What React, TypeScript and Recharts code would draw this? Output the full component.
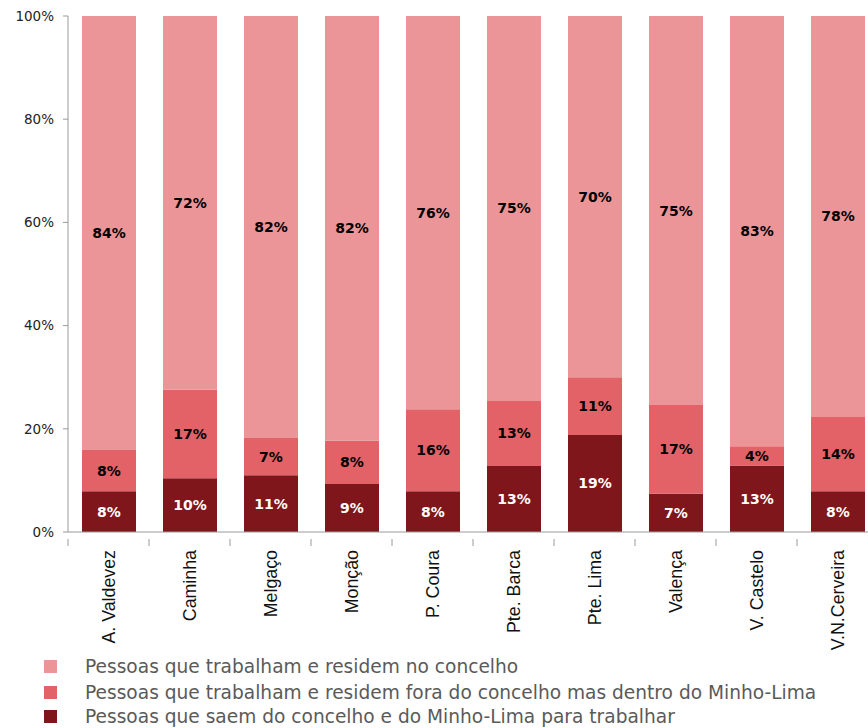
import React from "react";
import { BarChart, Bar, XAxis, YAxis, LabelList } from "recharts";

const categories = [
  "A. Valdevez",
  "Caminha",
  "Melgaço",
  "Monção",
  "P. Coura",
  "Pte. Barca",
  "Pte. Lima",
  "Valença",
  "V. Castelo",
  "V.N.Cerveira",
];
const saem = [7.9, 10.4, 11.0, 9.3, 7.9, 12.8, 18.8, 7.4, 12.9, 7.9];
const foraConcelho = [8.0, 17.2, 7.2, 8.4, 15.9, 12.6, 11.2, 17.2, 3.7, 14.4];
const noConcelho = [84.1, 72.4, 81.8, 82.3, 76.2, 74.6, 70.0, 75.4, 83.4, 77.7];
const yTicks = [0, 20, 40, 60, 80, 100];

const seriesNames = [
  "Pessoas que trabalham e residem no concelho",
  "Pessoas que trabalham e residem fora do concelho mas dentro do Minho-Lima",
  "Pessoas que saem do concelho e do Minho-Lima para trabalhar",
];
const colors = ["#EB9598", "#E26267", "#7E161B"];

const data = categories.map((c, i) => ({
  name: c,
  saem: saem[i],
  fora: foraConcelho[i],
  no: noConcelho[i],
}));

const AXIS = "#9a9a9a";
const FONT = "'DejaVu Sans', Verdana, sans-serif";
const HALF_BAND = 40.5;

const XTick = (props: any) => {
  const { x, y, payload } = props;
  const bx = x - HALF_BAND;
  const ty = y + 10;
  return (
    <g>
      <line x1={bx} y1={y - 1} x2={bx} y2={y + 6} stroke={AXIS} strokeWidth={1} />
      <text
        x={x}
        y={ty}
        transform={`rotate(-90, ${x}, ${ty})`}
        textAnchor="end"
        dominantBaseline="central"
        fontFamily="'Liberation Sans', Arial, sans-serif"
        fontSize={17.8}
        fill="#111"
      >
        {payload.value}
      </text>
    </g>
  );
};

const fmt = (v: any) => `${Math.round(Number(v))}%`;

export default function App() {
  return (
    <div
      style={{
        position: "absolute",
        left: 0,
        top: 0,
        width: 868,
        height: 728,
        overflow: "hidden",
        background: "#fff",
      }}
    >
      <BarChart
        width={880}
        height={728}
        data={data}
        margin={{ top: 16, right: 2, bottom: 0, left: 0 }}
        barSize={54}
      >
        <YAxis
          type="number"
          domain={[0, 100]}
          ticks={yTicks}
          tickFormatter={(v: number) => `${v}%`}
          width={68}
          stroke={AXIS}
          tickSize={5}
          tickMargin={9}
          tick={{ fill: "#222", fontSize: 13.5, fontFamily: FONT }}
          interval={0}
        />
        <XAxis
          dataKey="name"
          height={196}
          stroke={AXIS}
          tickLine={false}
          interval={0}
          tick={<XTick />}
        />
        <Bar dataKey="saem" stackId="a" fill={colors[2]} isAnimationActive={false}>
          <LabelList
            dataKey="saem"
            position="center"
            formatter={fmt}
            fill="#ffffff"
            fontWeight="bold"
            fontSize={14}
            fontFamily={FONT}
          />
        </Bar>
        <Bar dataKey="fora" stackId="a" fill={colors[1]} isAnimationActive={false}>
          <LabelList
            dataKey="fora"
            position="center"
            formatter={fmt}
            fill="#000000"
            fontWeight="bold"
            fontSize={14}
            fontFamily={FONT}
          />
        </Bar>
        <Bar dataKey="no" stackId="a" fill={colors[0]} isAnimationActive={false}>
          <LabelList
            dataKey="no"
            position="center"
            formatter={fmt}
            fill="#000000"
            fontWeight="bold"
            fontSize={14}
            fontFamily={FONT}
          />
        </Bar>
      </BarChart>
      <div style={{ position: "absolute", left: 44, top: 653 }}>
        {seriesNames.map((n, i) => (
          <div
            key={n}
            style={{
              display: "flex",
              alignItems: "center",
              height: 26,
              marginTop: i === 2 ? -2 : 0,
            }}
          >
            <div style={{ width: 13, height: 13, background: colors[i], marginRight: 28 }} />
            <span
              style={{
                fontFamily: "'DejaVu Sans', Verdana, sans-serif",
                fontSize: 18.6,
                color: "#5a5a5a",
                whiteSpace: "nowrap",
              }}
            >
              {n}
            </span>
          </div>
        ))}
      </div>
    </div>
  );
}
